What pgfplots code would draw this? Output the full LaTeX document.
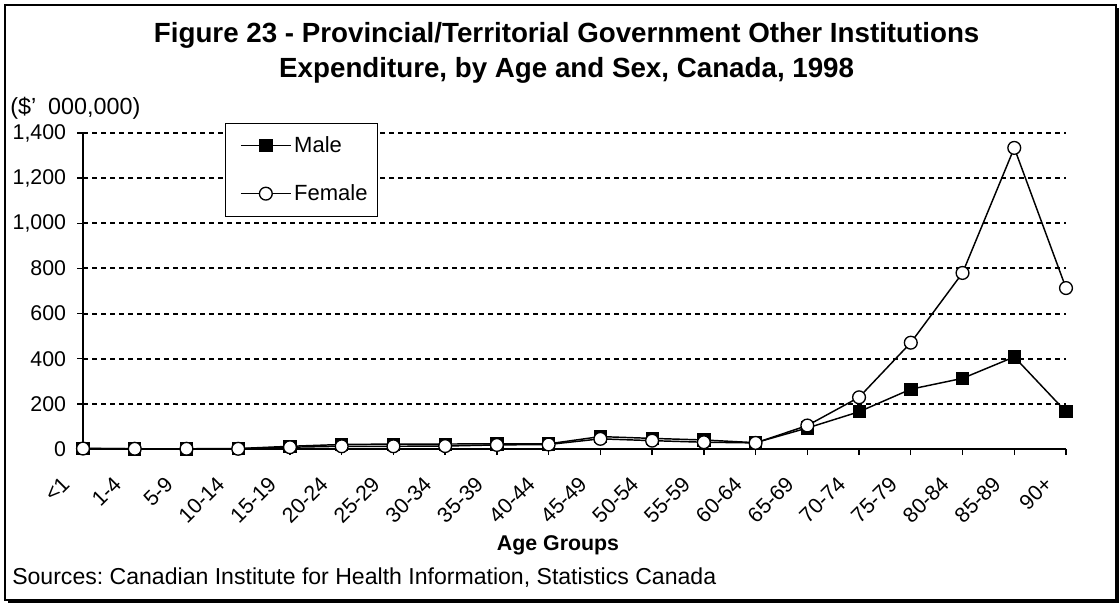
\documentclass[border=0pt]{standalone}
\usepackage{fontspec}
\setmainfont{Liberation Sans}
\usepackage{pgfplots}
\pgfplotsset{compat=1.18}
\begin{document}
\frenchspacing
\begin{tikzpicture}
\useasboundingbox (0,0) rectangle (840pt,453pt);
% frame with shadow
\fill[black] (6pt,1pt) rectangle (839pt,3pt);
\fill[black] (837pt,1pt) rectangle (839pt,447pt);
\draw[line width=1pt] (3.75pt,449.25pt) rectangle (837pt,3pt);
% titles
\node[font=\fontsize{20.8}{26}\selectfont\bfseries, align=center] at (425pt,413.5pt)
  {Figure 23 - Provincial/Territorial Government Other Institutions\\Expenditure, by Age and Sex, Canada, 1998};
\node[font=\fontsize{17.5}{20}\selectfont, anchor=west, inner sep=0pt] at (7.5pt,372pt) {(\$'\hspace{9pt}000,000)};
\node[font=\fontsize{17.3}{20}\selectfont, anchor=west, inner sep=0pt] at (9pt,19.5pt) {Sources: Canadian Institute for Health Information, Statistics Canada};
\node[font=\fontsize{16}{19}\selectfont\bfseries, inner sep=0pt] at (418.5pt,44.25pt) {Age Groups};
\begin{axis}[
  at={(62.25pt,116.25pt)}, anchor=south west,
  scale only axis, width=737.25pt, height=237pt,
  xmin=0, xmax=19, ymin=0, ymax=1400,
  clip=false,
  axis x line*=bottom, axis y line*=left,
  axis line style={-, line width=1.3pt},
  tick align=outside, major tick length=4.5pt,
  tick style={line width=1pt, black},
  xtick={0,...,19},
  xticklabels={<1,1-4,5-9,10-14,15-19,20-24,25-29,30-34,35-39,40-44,45-49,50-54,55-59,60-64,65-69,70-74,75-79,80-84,85-89,90+},
  xticklabel style={font=\fontsize{16}{19}\selectfont, xshift=-13pt, yshift=-19pt, rotate=45, anchor=east, inner sep=0pt},
  ytick={0,200,...,1400},
  yticklabel style={font=\fontsize{16}{19}\selectfont, inner sep=0pt, xshift=-8pt},
  /pgf/number format/.cd, 1000 sep={,}, assume math mode=true, /pgfplots/.cd,
  ymajorgrids,
  grid style={black, line width=1.6pt, dash pattern=on 3.5pt off 3.25pt},
  legend style={at={(rel axis cs:0.1445,1.0316)}, anchor=north west, draw=black, line width=0.6pt,
    font=\fontsize{16.5}{19}\selectfont, inner xsep=5pt, inner ysep=8pt, row sep=18.5pt},
  legend cell align=left,
  legend image code/.code={\path (0pt,0pt); \draw[mark repeat=2,mark phase=2,#1] plot coordinates {(6pt,0pt) (24.75pt,0pt) (43.5pt,0pt)};},
]
\addplot[black, line width=1.1pt, mark=square*, mark size=4.6pt, mark options={fill=black, line width=0.6pt}] coordinates {
(0,3) (1,1) (2,1) (3,2) (4,12) (5,20) (6,22) (7,22) (8,23) (9,23)
(10,55) (11,47) (12,40) (13,28) (14,93) (15,165) (16,265) (17,313) (18,408) (19,165)};
\addlegendentry{Male}
\addplot[black, line width=1.1pt, mark=*, mark size=4.8pt, mark options={fill=white, line width=1pt}] coordinates {
(0,2) (1,1) (2,1) (3,1) (4,8) (5,12) (6,12) (7,13) (8,18) (9,20)
(10,45) (11,37) (12,30) (13,27) (14,104) (15,229) (16,471) (17,780) (18,1334) (19,713)};
\addlegendentry{Female}
\end{axis}
\end{tikzpicture}
\end{document}
